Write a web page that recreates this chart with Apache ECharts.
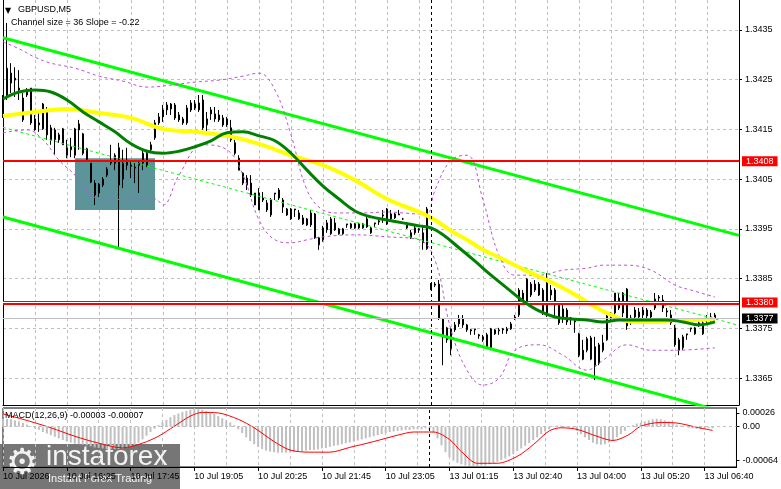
<!DOCTYPE html>
<html><head><meta charset="utf-8">
<script src="https://cdn.jsdelivr.net/npm/echarts@6/dist/echarts.min.js"></script>
<style>html,body{margin:0;padding:0;background:#fff}#c{width:781px;height:489px}</style>
</head><body><div id="c"></div>
<script>
// ---------------- DATA ----------------
const xLabels = ['10 Jul 2026','10 Jul 16:25','10 Jul 17:45','10 Jul 19:05','10 Jul 20:25','10 Jul 21:45','10 Jul 23:05','13 Jul 01:15','13 Jul 02:40','13 Jul 04:00','13 Jul 05:20','13 Jul 06:40'];
const priceTicks = [1.3365,1.3375,1.3385,1.3395,1.3405,1.3415,1.3425,1.3435];
const macdTicks = [0.00026, 0, -0.00064];
const resistance = 1.34086;
const support = 1.33802;
const lastPrice = 1.3377;
const zone = [[18, 1.34092], [38, 1.33988]];

const opens = [1.34183,1.34219,1.34263,1.34249,1.34229,1.34213,1.34229,1.34233,1.34171,1.34159,
1.34151,1.34189,1.34153,1.34129,1.34139,1.34151,1.34113,1.34109,1.34098,1.34161,
1.34141,1.34111,1.34082,1.34042,1.34022,1.34038,1.34058,1.34082,1.34098,1.34113,
1.34050,1.34088,1.34078,1.34072,1.34082,1.34082,1.34078,1.34109,1.34133,1.34163,
1.34175,1.34189,1.34191,1.34199,1.34179,1.34171,1.34163,1.34203,1.34201,1.34189,
1.34209,1.34159,1.34189,1.34181,1.34179,1.34173,1.34171,1.34153,1.34123,1.34092,
1.34062,1.34038,1.34042,1.34022,1.33988,1.34008,1.34002,1.33978,1.34020,1.34028,
1.34008,1.33990,1.33990,1.33990,1.33970,1.33972,1.33970,1.33982,1.33980,1.33932,
1.33928,1.33948,1.33940,1.33962,1.33940,1.33940,1.33958,1.33952,1.33952,1.33952,
1.33952,1.33970,1.33942,1.33960,1.33964,1.33976,1.33990,1.33970,1.33972,1.33978,
1.33970,1.33962,1.33942,1.33942,1.33948,1.33942,1.33910,1.33829,1.33839,1.33839,
1.33769,1.33751,1.33709,1.33757,1.33759,1.33769,1.33757,1.33747,1.33747,1.33737,
1.33727,1.33737,1.33709,1.33739,1.33745,1.33749,1.33745,1.33749,1.33771,1.33777,
1.33821,1.33801,1.33839,1.33839,1.33839,1.33827,1.33777,1.33827,1.33827,1.33797,
1.33789,1.33763,1.33771,1.33765,1.33739,1.33706,1.33706,1.33688,1.33713,1.33680,
1.33706,1.33727,1.33771,1.33781,1.33811,1.33781,1.33829,1.33763,1.33787,1.33773,
1.33787,1.33787,1.33783,1.33791,1.33811,1.33807,1.33785,1.33777,1.33751,1.33706,
1.33711,1.33737,1.33749,1.33739,1.33759,1.33739,1.33767,1.33771,1.33777];
const closes = [1.34209,1.34273,1.34243,1.34253,1.34233,1.34169,1.34219,1.34163,1.34149,1.34163,
1.34201,1.34139,1.34129,1.34149,1.34129,1.34119,1.34098,1.34115,1.34151,1.34149,
1.34102,1.34090,1.34044,1.34018,1.34040,1.34050,1.34070,1.34088,1.34082,1.34038,
1.34082,1.34078,1.34076,1.34074,1.34078,1.34102,1.34102,1.34119,1.34163,1.34175,
1.34189,1.34199,1.34201,1.34173,1.34169,1.34163,1.34193,1.34189,1.34193,1.34203,
1.34153,1.34171,1.34181,1.34171,1.34169,1.34159,1.34159,1.34129,1.34102,1.34068,
1.34042,1.34052,1.34018,1.33998,1.34022,1.34012,1.33988,1.34008,1.34022,1.34012,
1.33994,1.33978,1.33970,1.33988,1.33982,1.33960,1.33958,1.33958,1.33932,1.33918,
1.33952,1.33962,1.33970,1.33948,1.33950,1.33950,1.33960,1.33960,1.33960,1.33960,
1.33960,1.33954,1.33952,1.33962,1.33966,1.33978,1.33960,1.33980,1.33980,1.33980,
1.33970,1.33952,1.33932,1.33952,1.33950,1.33922,1.33990,1.33839,1.33837,1.33771,
1.33733,1.33727,1.33749,1.33747,1.33769,1.33757,1.33747,1.33745,1.33749,1.33735,
1.33733,1.33711,1.33749,1.33747,1.33747,1.33747,1.33749,1.33759,1.33773,1.33827,
1.33807,1.33849,1.33817,1.33827,1.33817,1.33781,1.33841,1.33817,1.33797,1.33761,
1.33771,1.33787,1.33769,1.33763,1.33696,1.33688,1.33729,1.33731,1.33676,1.33717,
1.33721,1.33775,1.33779,1.33821,1.33791,1.33821,1.33755,1.33771,1.33773,1.33783,
1.33777,1.33775,1.33773,1.33809,1.33813,1.33791,1.33783,1.33761,1.33717,1.33727,
1.33733,1.33739,1.33751,1.33751,1.33761,1.33761,1.33769,1.33773,1.33770];
const lows = [1.34173,1.34209,1.34223,1.34215,1.34209,1.34165,1.34215,1.34159,1.34147,1.34145,
1.34149,1.34129,1.34119,1.34098,1.34123,1.34119,1.34092,1.34094,1.34092,1.34109,
1.34098,1.34088,1.34042,1.33998,1.34014,1.34034,1.34054,1.34078,1.34068,1.33912,
1.34032,1.34068,1.34052,1.34042,1.34022,1.34068,1.34074,1.34102,1.34129,1.34159,
1.34165,1.34179,1.34179,1.34169,1.34165,1.34159,1.34159,1.34185,1.34189,1.34185,
1.34149,1.34143,1.34169,1.34165,1.34165,1.34155,1.34155,1.34125,1.34098,1.34068,
1.34038,1.34028,1.34014,1.33998,1.33988,1.34004,1.33984,1.33974,1.34008,1.34008,
1.33982,1.33976,1.33968,1.33974,1.33968,1.33958,1.33956,1.33954,1.33930,1.33908,
1.33924,1.33942,1.33938,1.33946,1.33938,1.33938,1.33952,1.33950,1.33950,1.33950,
1.33950,1.33952,1.33940,1.33954,1.33958,1.33962,1.33958,1.33964,1.33970,1.33978,
1.33968,1.33950,1.33930,1.33938,1.33942,1.33908,1.33908,1.33827,1.33833,1.33767,
1.33676,1.33721,1.33696,1.33743,1.33753,1.33751,1.33743,1.33737,1.33737,1.33729,
1.33723,1.33709,1.33706,1.33737,1.33737,1.33739,1.33739,1.33747,1.33767,1.33773,
1.33801,1.33797,1.33813,1.33823,1.33815,1.33777,1.33773,1.33807,1.33773,1.33757,
1.33761,1.33757,1.33757,1.33741,1.33692,1.33686,1.33702,1.33686,1.33646,1.33676,
1.33702,1.33725,1.33767,1.33773,1.33787,1.33773,1.33747,1.33757,1.33767,1.33767,
1.33771,1.33769,1.33767,1.33787,1.33803,1.33783,1.33773,1.33757,1.33713,1.33696,
1.33706,1.33727,1.33743,1.33737,1.33753,1.33737,1.33761,1.33763,1.33763];
const highs = [1.34219,1.34364,1.34283,1.34275,1.34269,1.34223,1.34233,1.34233,1.34179,1.34183,
1.34203,1.34195,1.34159,1.34153,1.34143,1.34153,1.34129,1.34133,1.34153,1.34169,
1.34143,1.34113,1.34082,1.34048,1.34042,1.34054,1.34074,1.34119,1.34102,1.34123,
1.34109,1.34113,1.34088,1.34082,1.34088,1.34109,1.34109,1.34125,1.34169,1.34183,
1.34199,1.34205,1.34203,1.34203,1.34185,1.34175,1.34199,1.34209,1.34209,1.34219,
1.34219,1.34185,1.34195,1.34195,1.34189,1.34179,1.34175,1.34169,1.34129,1.34098,
1.34064,1.34058,1.34058,1.34022,1.34032,1.34024,1.34008,1.34012,1.34022,1.34032,
1.34012,1.33992,1.33992,1.33990,1.33988,1.33978,1.33972,1.33988,1.33982,1.33934,
1.33956,1.33968,1.33974,1.33972,1.33952,1.33952,1.33960,1.33962,1.33962,1.33962,
1.33962,1.33974,1.33954,1.33962,1.33968,1.33988,1.33992,1.33988,1.33982,1.33988,
1.33972,1.33964,1.33948,1.33956,1.33952,1.33958,1.33994,1.33841,1.33843,1.33847,
1.33771,1.33753,1.33751,1.33763,1.33777,1.33777,1.33759,1.33749,1.33749,1.33739,
1.33737,1.33741,1.33751,1.33749,1.33751,1.33751,1.33753,1.33763,1.33777,1.33831,
1.33827,1.33851,1.33843,1.33847,1.33843,1.33831,1.33861,1.33837,1.33831,1.33801,
1.33797,1.33791,1.33773,1.33767,1.33741,1.33727,1.33733,1.33735,1.33733,1.33721,
1.33737,1.33781,1.33783,1.33821,1.33821,1.33823,1.33831,1.33777,1.33793,1.33791,
1.33793,1.33791,1.33787,1.33821,1.33817,1.33817,1.33791,1.33787,1.33757,1.33731,
1.33737,1.33739,1.33751,1.33753,1.33767,1.33767,1.33777,1.33781,1.33781];

// indicator lines, [bar index, price]
const greenMA = [[0,1.34211],[4,1.34225],[8,1.34229],[12,1.34225],[16,1.34209],[20,1.34185],[24,1.34165],[28,1.34145],[32,1.34121],[36,1.34106],[40,1.34102],[44,1.34106],[48,1.34115],[52,1.34127],[56,1.34143],[60,1.34145],[64,1.34137],[68,1.34127],[72,1.34102],[76,1.34068],[80,1.34036],[84,1.34010],[88,1.33986],[92,1.33974],[96,1.33968],[100,1.33962],[104,1.33956],[107,1.33952],[110,1.33938],[114,1.33912],[118,1.33885],[122,1.33857],[126,1.33831],[130,1.33805],[134,1.33785],[138,1.33773],[142,1.33769],[146,1.33767],[150,1.33763],[154,1.33767],[158,1.33767],[162,1.33767],[166,1.33767],[170,1.33763],[174,1.33757],[178,1.33763]];
const yellowMA = [[0,1.34177],[8,1.34185],[16,1.34191],[24,1.34183],[32,1.34173],[40,1.34151],[48,1.34145],[56,1.34137],[64,1.34121],[72,1.34098],[80,1.34078],[88,1.34048],[96,1.34010],[104,1.33984],[108,1.33968],[112,1.33946],[116,1.33928],[120,1.33908],[124,1.33893],[128,1.33877],[132,1.33861],[136,1.33847],[140,1.33831],[144,1.33813],[148,1.33793],[152,1.33777],[156,1.33765],[160,1.33763],[164,1.33763],[168,1.33767],[172,1.33767],[178,1.33769]];
const bandUpper = [[0,1.34326],[4,1.34312],[8,1.34295],[12,1.34283],[18,1.34273],[24,1.34257],[30,1.34247],[36,1.34235],[42,1.34239],[48,1.34245],[54,1.34249],[60,1.34257],[64,1.34263],[68,1.34229],[72,1.34139],[76,1.34028],[80,1.33988],[84,1.33982],[90,1.33982],[96,1.33984],[100,1.33982],[104,1.33980],[106,1.33980],[108,1.34028],[112,1.34088],[116,1.34098],[120,1.34008],[124,1.33897],[128,1.33857],[134,1.33857],[140,1.33867],[146,1.33871],[150,1.33877],[156,1.33877],[162,1.33867],[168,1.33837],[172,1.33827],[178,1.33813]];
const bandLower = [[0,1.34143],[6,1.34149],[10,1.34129],[14,1.34088],[18,1.34058],[22,1.34018],[26,1.34008],[32,1.34010],[38,1.34010],[40,1.33998],[44,1.34058],[50,1.34119],[56,1.34109],[60,1.34058],[64,1.33968],[68,1.33928],[72,1.33922],[76,1.33928],[80,1.33934],[88,1.33938],[96,1.33934],[104,1.33928],[108,1.33887],[112,1.33747],[116,1.33666],[120,1.33636],[124,1.33650],[128,1.33706],[134,1.33717],[140,1.33696],[146,1.33666],[150,1.33686],[156,1.33717],[162,1.33706],[168,1.33706],[178,1.33711]];
const channelUpper = [[0,1.34334],[184,1.33937]];
const channelMid = [[0,1.34154],[184,1.33756]];
const channelLower = [[0,1.33974],[184,1.33574]];

const macdHist = [0.00015,0.00015,0.00014,0.00012,0.0001,0.00007,0.00004,0.00001,
-0.00003,-0.00006,-0.0001,-0.00013,-0.00016,-0.00019,-0.00022,-0.00025,-0.00028,-0.0003,-0.00032,-0.00033,-0.00034,-0.00035,-0.00037,-0.00039,-0.0004,-0.00041,-0.00042,-0.00042,-0.00042,-0.00042,-0.00041,-0.0004,-0.00038,-0.00035,-0.0003,-0.00024,-0.00017,-0.0001,-0.00004,
0.00003,0.00008,0.00013,0.00018,0.00022,0.00025,0.00028,0.0003,0.00032,0.00033,0.00033,0.00032,0.0003,0.00027,0.00024,0.0002,0.00016,0.00012,0.00008,0.00003,
-0.00005,-0.00012,-0.0002,-0.00027,-0.00033,-0.00038,-0.00042,-0.00045,-0.00047,-0.00048,-0.00049,-0.00049,-0.00049,-0.00048,-0.00048,-0.00047,-0.00046,-0.00045,-0.00044,-0.00044,-0.00043,-0.00041,-0.0004,-0.00038,-0.00036,-0.00035,-0.00033,-0.00031,-0.0003,-0.00028,-0.00026,-0.00024,-0.00022,-0.0002,-0.00018,-0.00016,-0.00014,-0.00012,-0.0001,-0.00009,-0.00008,-0.00007,-0.00006,-0.00006,-0.00005,-0.00005,-0.00005,-0.00003,
-0.00005,-0.00012,-0.00022,-0.00035,-0.00048,-0.00057,-0.00064,-0.00068,-0.00071,-0.00073,-0.00074,-0.00074,-0.00074,-0.00073,-0.00073,-0.00071,-0.00069,-0.00066,-0.00063,-0.0006,-0.00056,-0.00052,-0.00046,-0.00041,-0.00036,-0.00031,-0.00025,-0.0002,-0.00014,-0.00009,-0.00005,
0.00001,0.00002,0.00002,0.00001,-0.00001,-0.00003,
-0.00008,-0.00014,-0.0002,-0.00025,-0.0003,-0.00033,-0.00034,-0.00033,-0.0003,-0.00026,-0.0002,-0.00014,-0.00008,
0.00001,0.00003,0.00006,0.00008,0.0001,0.00012,0.00014,0.00015,0.00014,0.00012,0.0001,0.00007,0.00004,0.00002,0,
-0.00002,-0.00003,-0.00004,-0.00005,-0.00004,-0.00003,-0.00003];
const macdSignal = [[0,0.00024],[5,0.00014],[12,-0.00002],[18,-0.00018],[24,-0.00031],[30,-0.0004],[35,-0.00031],[39,-0.00018],[43,0.00001],[47,0.0002],[50,0.00027],[54,0.00026],[59,0.00014],[63,-0.00002],[68,-0.00028],[72,-0.00044],[77,-0.00048],[82,-0.00048],[87,-0.00039],[93,-0.00028],[99,-0.00016],[103,-0.0001],[108,-0.0001],[112,-0.00024],[115,-0.00047],[119,-0.00069],[124,-0.00069],[129,-0.00056],[133,-0.00034],[137,-0.00008],[140,-0.00002],[144,-0.00005],[149,-0.00018],[153,-0.00026],[157,-0.00015],[160,0.00001],[165,0.00008],[169,0.00007],[174,-0.00001],[178,-0.00007]];

const separatorBar = 107;
const slotCount = 185;

// ---------------- CHART ----------------
const FONT = 'Liberation Sans';
const cats = Array.from({length: slotCount}, (_, i) => String(i));
const candles = opens.map((o, i) => [o, closes[i], lows[i], highs[i]]);
const trunc4 = v => (Math.floor(v * 10000 + 1e-6) / 10000).toFixed(4);
const gridDash = {color: '#c0c0c0', type: [3, 3], width: 1};
const lblInterval = i => i % 16 === 0 && i <= 176;

function xAx(gi, labels) {
  return {
    type: 'category', gridIndex: gi, data: cats, boundaryGap: false,
    axisLine: {show: true, onZero: false, lineStyle: {color: '#000', width: 1}},
    axisTick: labels ? {show: true, length: 4, interval: lblInterval, lineStyle: {color: '#000'}} : {show: false},
    axisLabel: labels ? {show: true, interval: lblInterval, formatter: (v, i) => xLabels[Math.round(i / 16)] || '',
      align: 'left', margin: 5, fontFamily: FONT, fontSize: 9, color: '#000'} : {show: false},
    splitLine: {show: true, interval: i => i % 8 === 0, lineStyle: gridDash}
  };
}
const priceLabel = bg => ({show: true, position: 'end', formatter: p => trunc4(p.value), backgroundColor: bg,
  color: '#fff', padding: [1, 4, 0, 4], distance: 3, fontFamily: FONT, fontSize: 9});
const lineS = (data, color, width, extra) => Object.assign({
  type: 'line', data, xAxisIndex: 0, yAxisIndex: 0, showSymbol: false, symbol: 'none', silent: true,
  lineStyle: {color, width}, z: 3
}, extra || {});
const txt = (x, y, text, font, fill) => ({type: 'text', x, y, z: 10,
  style: {text, font, fill: fill || '#000', align: 'left', verticalAlign: 'top'}});

const chart = echarts.init(document.getElementById('c'), null, {renderer: 'canvas'});
chart.setOption({
  animation: false,
  backgroundColor: '#fff',
  grid: [
    {left: 3, top: 0, width: 736, height: 405},
    {left: 3, top: 408, width: 736, height: 59, show: true, borderColor: '#000', borderWidth: 1, backgroundColor: 'rgba(0,0,0,0)'}
  ],
  xAxis: [xAx(0, false), xAx(1, true)],
  yAxis: [
    {type: 'value', gridIndex: 0, position: 'right', min: 1.33596, max: 1.34410,
      axisLine: {show: true, lineStyle: {color: '#000'}},
      axisTick: {show: true, length: 3, customValues: priceTicks, lineStyle: {color: '#000'}},
      axisLabel: {customValues: priceTicks, formatter: v => v.toFixed(4), margin: 6, fontFamily: FONT, fontSize: 9, color: '#000'},
      splitLine: {show: true, lineStyle: gridDash}},
    {type: 'value', gridIndex: 0, position: 'left', min: 1.33596, max: 1.34410,
      axisLine: {show: true, onZero: false, lineStyle: {color: '#000'}}, axisTick: {show: false}, axisLabel: {show: false}, splitLine: {show: false}},
    {type: 'value', gridIndex: 1, position: 'right', min: -0.00076, max: 0.000353,
      axisLine: {show: true, lineStyle: {color: '#000'}},
      axisTick: {show: true, length: 3, customValues: macdTicks, lineStyle: {color: '#000'}},
      axisLabel: {customValues: macdTicks, formatter: v => v === 0 ? '0.00' : v.toFixed(5), margin: 6, fontFamily: FONT, fontSize: 9, color: '#000'},
      splitLine: {show: false}}
  ],
  graphic: [
    txt(5, 7, '\u25BC', '8px "DejaVu Sans"'),
    txt(18, 5, 'GBPUSD,M5', '9px "Liberation Sans"'),
    txt(11, 18, 'Channel size = 36 Slope = -0.22', '9px "Liberation Sans"'),
    txt(5, 411, 'MACD(12,26,9) -0.00003 -0.00007', '9px "Liberation Sans"'),
    {type: 'group', z: 20, children: [
      {type: 'rect', shape: {x: 0, y: 444, width: 180, height: 45}, style: {fill: 'rgba(96,96,96,0.86)'}},
      {type: 'text', x: 6, y: 447, style: {text: '\u2699', font: '36px "DejaVu Sans"', fill: 'rgba(255,255,255,0.9)', align: 'left', verticalAlign: 'top'}},
      {type: 'text', x: 46, y: 443, style: {text: 'instaforex', font: '28px "Liberation Sans"', fill: 'rgba(255,255,255,0.92)', align: 'left', verticalAlign: 'top'}},
      {type: 'text', x: 48, y: 473, style: {text: 'Instant Forex Trading', font: '11px "Liberation Sans"', fill: 'rgba(255,255,255,0.92)', align: 'left', verticalAlign: 'top'}}
    ]}
  ],
  series: [
    {type: 'line', data: [], xAxisIndex: 0, yAxisIndex: 0, silent: true, z: 1,
      markArea: {silent: true, itemStyle: {color: '#5b9499'},
        data: [[{xAxis: String(zone[0][0]), yAxis: zone[0][1]}, {xAxis: String(zone[1][0]), yAxis: zone[1][1]}]]}},
    {type: 'candlestick', data: candles, xAxisIndex: 0, yAxisIndex: 0, barWidth: 2, silent: true, z: 2,
      itemStyle: {color: '#fff', color0: '#000', borderColor: '#000', borderColor0: '#000', borderWidth: 1}},
    {type: 'line', data: [], xAxisIndex: 0, yAxisIndex: 0, silent: true, z: 6,
      markLine: {silent: true, symbol: ['none', 'none'], animation: false, precision: 6,
        data: [
          {xAxis: String(separatorBar), lineStyle: {color: '#000', type: [3, 3], width: 1}, label: {show: false}},
          {yAxis: lastPrice, lineStyle: {color: '#c0c0c0', type: 'solid', width: 1}, label: priceLabel('#000')},
          {yAxis: resistance, lineStyle: {color: '#ff0000', type: 'solid', width: 2}, label: priceLabel('#ff0000')},
          {yAxis: support, lineStyle: {color: '#ff0000', type: 'solid', width: 4}, label: priceLabel('#ff0000')},
          {yAxis: support, lineStyle: {color: '#ffffff', type: 'solid', width: 1}, label: {show: false}}
        ]}},
    lineS(channelUpper, '#00ff00', 3),
    lineS(channelLower, '#00ff00', 3),
    lineS(channelMid, '#00ff00', 1, {lineStyle: {color: '#00ff00', width: 1, type: [3, 3]}}),
    lineS(bandUpper, '#ba55d3', 1, {smooth: 0.4, lineStyle: {color: '#ba55d3', width: 1, type: [3, 3]}}),
    lineS(bandLower, '#ba55d3', 1, {smooth: 0.4, lineStyle: {color: '#ba55d3', width: 1, type: [3, 3]}}),
    lineS(yellowMA, '#ffff00', 4, {smooth: 0.4, z: 4}),
    lineS(greenMA, '#008000', 3, {smooth: 0.4, z: 5}),
    {type: 'bar', data: macdHist, xAxisIndex: 1, yAxisIndex: 2, barWidth: 2, silent: true,
      itemStyle: {color: '#c0c0c0'},
      markLine: {silent: true, symbol: ['none', 'none'], animation: false, precision: 6,
        data: [
          {yAxis: 0, lineStyle: {color: '#c0c0c0', type: [3, 3], width: 1}, label: {show: false}},
          {xAxis: String(separatorBar), lineStyle: {color: '#000', type: [3, 3], width: 1}, label: {show: false}}
        ]}},
    {type: 'line', data: macdSignal, xAxisIndex: 1, yAxisIndex: 2, showSymbol: false, symbol: 'none', silent: true,
      smooth: 0.3, lineStyle: {color: '#ff0000', width: 1}, z: 4}
  ]
});
</script>
</body></html>
